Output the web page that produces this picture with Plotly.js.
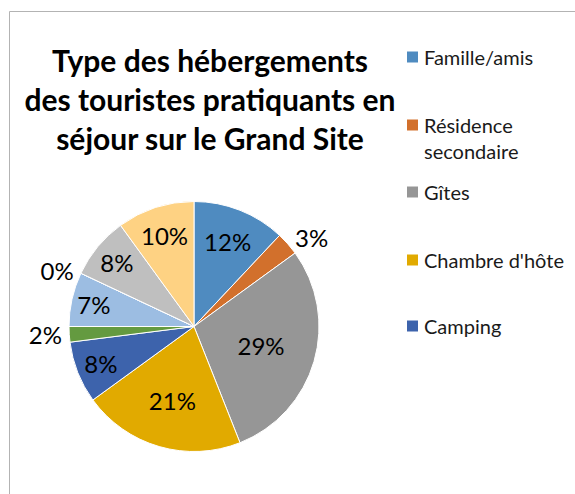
<!DOCTYPE html>
<html>
<head>
<meta charset="utf-8">
<script src="https://cdn.plot.ly/plotly-3.0.1.min.js"></script>
<style>html,body{margin:0;padding:0;background:#fff;}#chart{width:575px;height:494px;}</style>
</head>
<body>
<div id="chart"></div>
<script>
// Data
const categories = ["Famille/amis", "Résidence secondaire", "Gîtes", "Chambre d'hôte", "Camping",
  "Catégorie 6", "Catégorie 7", "Catégorie 8", "Catégorie 9", "Catégorie 10"];
const values = [12, 3, 29, 21, 8, 2, 7, 0, 8, 10];
const colors = ["#4F8BC0", "#D2702C", "#969696", "#E1AA00", "#3D63AC",
  "#649A40", "#9CBDE2", "#F4AB7E", "#BFBFBF", "#FED283"];
const textPositions = ["inside", "outside", "inside", "inside", "inside",
  "outside", "inside", "outside", "inside", "inside"];
const legendCount = 5;
const legendLabels = ["Famille/amis", "Résidence<br>secondaire", "Gîtes", "Chambre d'hôte", "Camping"];

const W = 575, H = 494;
const px = x => x / W;
const py = y => 1 - y / H;

const FONT = "Lato, 'Open Sans', sans-serif";

const trace = {
  type: "pie",
  labels: categories,
  values: values,
  sort: false,
  direction: "clockwise",
  rotation: 0,
  marker: { colors: colors, line: { color: "#ffffff", width: 1 } },
  texttemplate: "%{percent:.0%}",
  textposition: textPositions,
  insidetextorientation: "horizontal",
  textfont: { family: FONT, size: 24, color: "#000000" },
  outsidetextfont: { family: FONT, size: 24, color: "#000000" },
  hoverinfo: "label+percent",
  showlegend: false,
  domain: { x: [px(69), px(319)], y: [1 - 451.5 / H, 1 - 201.5 / H] }
};

const legendY = [57, 138, 192, 260, 326];
const legendSquareY = [57, 125, 192, 260, 326];
const annotations = [];
const shapes = [
  { type: "rect", xref: "paper", yref: "paper", x0: px(9.5), x1: px(620), y0: py(11.5), y1: py(560),
    line: { color: "#B3B3B3", width: 1 }, fillcolor: "rgba(0,0,0,0)" }
];
for (let i = 0; i < legendCount; i++) {
  shapes.push({ type: "rect", xref: "paper", yref: "paper",
    x0: px(407), x1: px(418), y0: py(legendSquareY[i] - 5.5), y1: py(legendSquareY[i] + 5.5),
    line: { width: 0 }, fillcolor: colors[i] });
  annotations.push({ xref: "paper", yref: "paper", x: px(422), y: py(legendY[i]),
    xanchor: "left", yanchor: "middle", align: "left", showarrow: false,
    text: legendLabels[i], font: { family: FONT, size: 20, color: "#1a1a1a" } });
}

const layout = {
  width: W, height: H,
  margin: { l: 0, r: 0, t: 0, b: 0 },
  paper_bgcolor: "#ffffff",
  showlegend: false,
  title: {
    text: "Type des hébergements<br>des touristes pratiquants en<br>séjour sur le Grand Site",
    font: { family: FONT, size: 30, color: "#000000", weight: "bold" },
    x: px(210), xanchor: "center", xref: "paper",
    y: py(72), yanchor: "top", yref: "container"
  },
  shapes: shapes,
  annotations: annotations
};

Plotly.newPlot("chart", [trace], layout, { displayModeBar: false, staticPlot: true });
</script>
</body>
</html>
